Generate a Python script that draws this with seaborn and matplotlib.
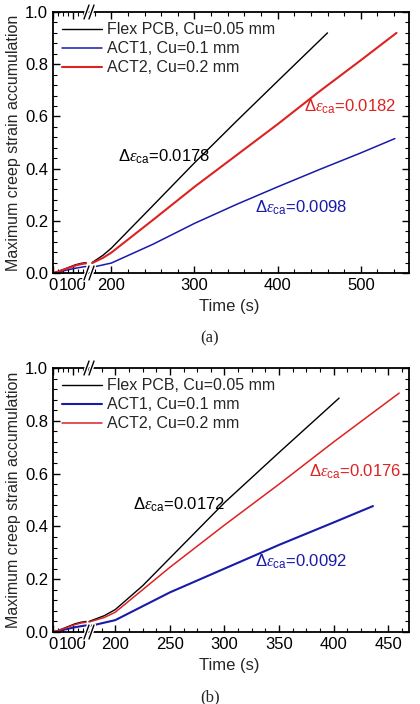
import matplotlib
matplotlib.use("Agg")
import matplotlib.pyplot as plt
from matplotlib.ticker import AutoMinorLocator, FixedLocator
import seaborn as sns
import pandas as pd

# ---------------- data ----------------
series_names = ["Flex PCB, Cu=0.05 mm", "ACT1, Cu=0.1 mm", "ACT2, Cu=0.2 mm"]
series_colors = ["#000000", "#1a1aaa", "#dd2222"]

# panel (a) — early segment (0-170 s)
a_early_t_black = [0, 20, 50, 80, 110, 140, 165]
a_early_v_black = [0.0, 0.004, 0.013, 0.022, 0.031, 0.037, 0.040]
a_early_t_blue = [0, 20, 50, 80, 110, 140, 165]
a_early_v_blue = [0.0, 0.003, 0.008, 0.013, 0.018, 0.022, 0.025]
a_early_t_red = [0, 20, 50, 80, 110, 140, 165]
a_early_v_red = [0.0, 0.004, 0.012, 0.020, 0.028, 0.034, 0.037]
# panel (a) — main segment
a_t_black = [177, 190, 200, 250, 300, 350, 400, 460]
a_v_black = [0.040, 0.068, 0.095, 0.258, 0.422, 0.580, 0.735, 0.920]
a_t_blue = [177, 200, 250, 300, 350, 400, 450, 500, 541]
a_v_blue = [0.022, 0.038, 0.110, 0.190, 0.262, 0.330, 0.396, 0.460, 0.515]
a_t_red = [177, 190, 200, 250, 300, 350, 400, 450, 500, 543]
a_v_red = [0.038, 0.058, 0.078, 0.203, 0.330, 0.450, 0.570, 0.695, 0.815, 0.920]

# panel (b) — early segment
b_early_t_black = [0, 20, 50, 80, 110, 140, 165]
b_early_v_black = [0.0, 0.004, 0.013, 0.022, 0.031, 0.037, 0.040]
b_early_t_blue = [0, 20, 50, 80, 110, 140, 165]
b_early_v_blue = [0.0, 0.003, 0.008, 0.013, 0.018, 0.022, 0.025]
b_early_t_red = [0, 20, 50, 80, 110, 140, 165]
b_early_v_red = [0.0, 0.004, 0.012, 0.020, 0.028, 0.034, 0.037]
# panel (b) — main segment
b_t_black = [176, 190, 200, 225, 250, 300, 350, 405]
b_v_black = [0.040, 0.062, 0.085, 0.175, 0.280, 0.490, 0.680, 0.886]
b_t_blue = [176, 200, 250, 300, 350, 400, 436]
b_v_blue = [0.022, 0.045, 0.150, 0.240, 0.330, 0.415, 0.477]
b_t_red = [176, 190, 200, 250, 300, 350, 400, 460]
b_v_red = [0.038, 0.055, 0.075, 0.245, 0.405, 0.560, 0.720, 0.905]

a_labels = ["0.0178", "0.0098", "0.0182"]
b_labels = ["0.0172", "0.0092", "0.0176"]

a_major_ticks = [200, 300, 400, 500]
b_major_ticks = [200, 250, 300, 350, 400, 450]
early_ticks = [0, 100]
y_ticks = [0.0, 0.2, 0.4, 0.6, 0.8, 1.0]
y_ticklabels = ["0.0", "0.2", "0.4", "0.6", "0.8", "1.0"]

# ---------------- style ----------------
sns.set_theme(style="ticks")
plt.rcParams["font.family"] = ["Liberation Sans", "DejaVu Sans"]
plt.rcParams["mathtext.fontset"] = "custom"
plt.rcParams["mathtext.rm"] = "Liberation Sans"
plt.rcParams["mathtext.it"] = "Liberation Serif:italic"
plt.rcParams["mathtext.default"] = "rm"

W, H = 420, 704
fig = plt.figure(figsize=(W / 100, H / 100), dpi=100)

def frac(x0, x1, ytop, ybot):
    return [x0 / W, 1 - ybot / H, (x1 - x0) / W, (ybot - ytop) / H]

lws = {"a": [1.0, 1.1, 1.5], "b": [1.0, 1.5, 1.1]}

def make_df(ts, vs):
    rows = []
    for name, t, v in zip(series_names, ts, vs):
        for ti, vi in zip(t, v):
            rows.append({"t": ti, "v": vi, "s": name})
    return pd.DataFrame(rows)

def style_axes(ax, side):
    ax.tick_params(which="both", direction="in", labelsize=12, colors="black")
    ax.tick_params(which="major", length=5, width=1)
    ax.tick_params(which="minor", length=3, width=0.8)
    for sp in ax.spines.values():
        sp.set_linewidth(1.3)
        sp.set_color("black")
    ax.set_xlabel("")
    ax.set_ylabel("")
    if side == "left":
        ax.spines["right"].set_visible(False)
        ax.tick_params(which="both", top=True, right=False, left=True)
    else:
        ax.spines["left"].set_visible(False)
        ax.tick_params(which="both", top=True, right=True, left=False, labelleft=False)

def break_marks(xpix, ytop, ybot):
    for yp in (ytop, ybot):
        for dx in (0, 5):
            x0, y0 = (xpix - 5 + dx) / W, 1 - (yp + 7) / H
            x1, y1 = (xpix + dx) / W, 1 - (yp - 7) / H
            fig.add_artist(plt.Line2D([x0, x1], [y0, y1], color="white", lw=3.0,
                                      transform=fig.transFigure))
            fig.add_artist(plt.Line2D([x0, x1], [y0, y1], color="black", lw=1.0,
                                      transform=fig.transFigure))

def panel(ytop, ybot, early_ts, early_vs, ts, vs, xlim, majors, minor_n, labels,
          label_pos, lw, caption, cap_y):
    axl = fig.add_axes(frac(53, 88, ytop, ybot))
    axr = fig.add_axes(frac(88, 409, ytop, ybot))
    dfe = make_df(early_ts, early_vs)
    dfm = make_df(ts, vs)
    for i, name in enumerate(series_names):
        sns.lineplot(data=dfe[dfe.s == name], x="t", y="v", ax=axl, color=series_colors[i],
                     lw=lw[i], legend=False)
        sns.lineplot(data=dfm[dfm.s == name], x="t", y="v", ax=axr, color=series_colors[i],
                     lw=lw[i], label=name, legend=False)
    for ax in (axl, axr):
        ax.set_ylim(0, 1.0)
        ax.yaxis.set_major_locator(FixedLocator(y_ticks))
        ax.yaxis.set_minor_locator(AutoMinorLocator(5))
    axl.set_xlim(0, 175)
    axl.xaxis.set_major_locator(FixedLocator(early_ticks))
    axl.xaxis.set_minor_locator(FixedLocator([25, 50, 75, 125, 150]))
    axl.set_yticklabels(y_ticklabels)
    axr.set_xlim(*xlim)
    axr.xaxis.set_major_locator(FixedLocator(majors))
    axr.xaxis.set_minor_locator(AutoMinorLocator(minor_n))
    style_axes(axl, "left")
    style_axes(axr, "right")
    axl.set_ylabel("Maximum creep strain accumulation", fontsize=11.5, labelpad=3)
    axr.set_xlabel("Time (s)", fontsize=12)
    axr.xaxis.set_label_coords(0.44, -0.1)
    handles, names = axr.get_legend_handles_labels()
    axr.legend(handles, names, loc="upper left", bbox_to_anchor=(-0.1, 0.985),
               frameon=False, fontsize=11.5, handlelength=2.5, handletextpad=0.3,
               labelspacing=0.25, borderaxespad=0.0)
    for i, (lab, (tx, ty)) in enumerate(zip(labels, label_pos)):
        axr.text(tx, ty, r"$\it{\Delta\varepsilon}_{\rm ca}$=" + lab, color=series_colors[i],
                 fontsize=12, va="center", ha="left")
    break_marks(89, ytop, ybot)
    fig.text(210 / W, 1 - cap_y / H, caption, ha="center", va="center", fontsize=12,
             family="Liberation Serif")

panel(12, 273,
      [a_early_t_black, a_early_t_blue, a_early_t_red],
      [a_early_v_black, a_early_v_blue, a_early_v_red],
      [a_t_black, a_t_blue, a_t_red], [a_v_black, a_v_blue, a_v_red],
      (172, 558), a_major_ticks, 5, a_labels,
      [(208, 0.445), (373, 0.249), (432, 0.636)], lws["a"], "(a)", 338)

panel(368, 632,
      [b_early_t_black, b_early_t_blue, b_early_t_red],
      [b_early_v_black, b_early_v_blue, b_early_v_red],
      [b_t_black, b_t_blue, b_t_red], [b_v_black, b_v_blue, b_v_red],
      (175, 469), b_major_ticks, 4, b_labels,
      [(216, 0.48), (328, 0.265), (377, 0.606)], lws["b"], "(b)", 697)

fig.savefig("out.png", dpi=100)
